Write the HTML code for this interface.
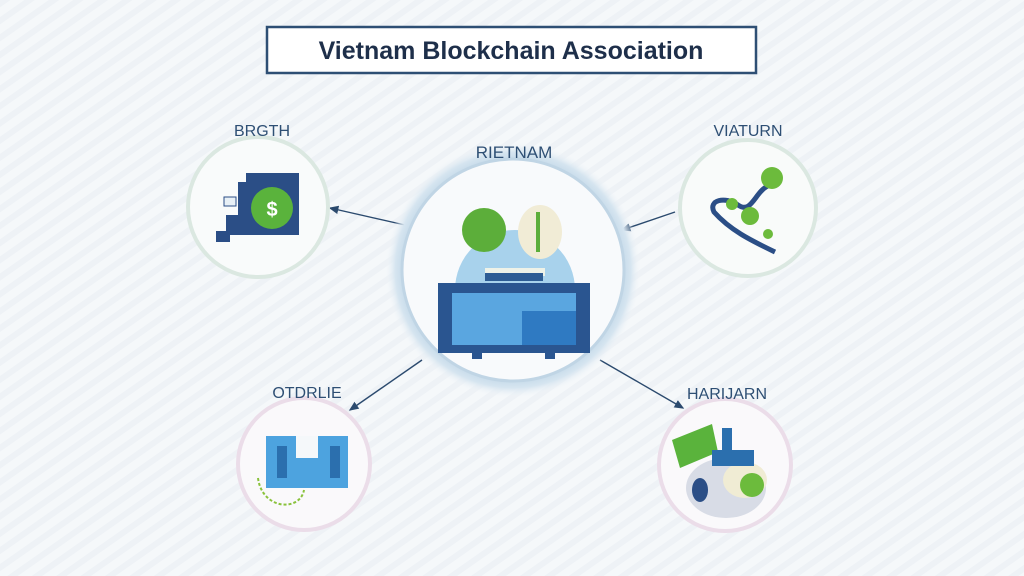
<!DOCTYPE html>
<html><head><meta charset="utf-8"><style>
html,body{margin:0;padding:0;width:1024px;height:576px;overflow:hidden;background:#f3f6f9}
svg{display:block}
text{font-family:"Liberation Sans",sans-serif}
</style></head><body>
<svg width="1024" height="576" viewBox="0 0 1024 576" xmlns="http://www.w3.org/2000/svg">
<defs>
<pattern id="st" width="14" height="14" patternUnits="userSpaceOnUse" patternTransform="rotate(-35)">
<rect width="14" height="14" fill="#f5f8fa"/><rect width="14" height="6" fill="#eef2f6"/></pattern>
<radialGradient id="glow" cx="0.5" cy="0.5" r="0.5">
<stop offset="0.82" stop-color="#bcd4e6"/><stop offset="0.92" stop-color="#d6e5f0"/><stop offset="1" stop-color="#f3f6f9" stop-opacity="0"/></radialGradient>
<marker id="ar" markerWidth="8" markerHeight="8" refX="6" refY="4" orient="auto"><path d="M0,1 L7,4 L0,7z" fill="#2b4a6e"/></marker>
</defs>
<rect width="1024" height="576" fill="url(#st)"/>
<rect x="267" y="27" width="489" height="46" fill="#fff" stroke="#2e4f74" stroke-width="2.5"/>
<text x="511" y="59" font-size="25" font-weight="bold" fill="#1e2f4a" text-anchor="middle">Vietnam Blockchain Association</text>
<g stroke="#2b4a6e" stroke-width="1.4" fill="none" marker-end="url(#ar)">
<line x1="405" y1="225" x2="330" y2="208"/>
<line x1="675" y1="212" x2="622" y2="230"/>
<line x1="422" y1="360" x2="350" y2="410"/>
<line x1="600" y1="360" x2="683" y2="408"/>
</g>
<circle cx="513" cy="270" r="128" fill="url(#glow)"/>
<circle cx="513" cy="270" r="111" fill="#f8fafc" stroke="#c0d5e5" stroke-width="3"/>
<path d="M455,290 A60,60 0 1 1 575,290 Z" fill="#a8d2ec"/>
<circle cx="484" cy="230" r="22" fill="#5cae3a"/>
<ellipse cx="540" cy="232" rx="22" ry="27" fill="#f1ecd6"/>
<rect x="536" y="212" width="4" height="40" fill="#5cae3a"/>
<rect x="485" y="268" width="60" height="8" fill="#eef2e8"/>
<rect x="485" y="273" width="58" height="8" fill="#2d5c94"/>
<rect x="438" y="283" width="152" height="70" fill="#2a5590"/>
<rect x="452" y="293" width="124" height="52" fill="#5aa6e0"/>
<rect x="522" y="311" width="54" height="34" fill="#2f7ac2"/>
<rect x="472" y="349" width="10" height="10" fill="#2a5590"/>
<rect x="545" y="349" width="10" height="10" fill="#2a5590"/>
<text x="514" y="158" font-size="17" fill="#2e4f74" text-anchor="middle">RIETNAM</text>
<circle cx="258" cy="207" r="70" fill="#f9fbfb" stroke="#dbe8e1" stroke-width="4"/>
<path d="M246,173 H299 V235 H230 V242 H216 V231 H226 V215 H238 V182 H246Z" fill="#2b4e86"/>
<circle cx="272" cy="208" r="21" fill="#5ab33c"/>
<text x="272" y="216" font-size="20" font-weight="bold" fill="#fff" text-anchor="middle">$</text>
<rect x="224" y="197" width="12" height="9" fill="#e8f0f6" stroke="#2b4e86"/>
<text x="262" y="136" font-size="16" fill="#2e4f74" text-anchor="middle">BRGTH</text>
<circle cx="748" cy="208" r="68" fill="#f9fbfa" stroke="#dbe8e1" stroke-width="4"/>
<path d="M770,185 C755,190 752,215 738,205 C725,196 708,200 714,212 C730,230 750,240 775,252" stroke="#2b4e86" stroke-width="5" fill="none"/>
<circle cx="772" cy="178" r="11" fill="#6cbb3c"/>
<circle cx="750" cy="216" r="9" fill="#6cbb3c"/>
<circle cx="732" cy="204" r="6" fill="#6cbb3c"/>
<circle cx="768" cy="234" r="5" fill="#6cbb3c"/>
<text x="748" y="136" font-size="16" fill="#2e4f74" text-anchor="middle">VIATURN</text>
<circle cx="304" cy="464" r="66" fill="#faf9fb" stroke="#ebdde9" stroke-width="4"/>
<rect x="266" y="436" width="82" height="52" fill="#4da3df"/>
<rect x="296" y="436" width="22" height="22" fill="#f5f8fa"/>
<rect x="277" y="446" width="10" height="32" fill="#2b6fae"/>
<rect x="330" y="446" width="10" height="32" fill="#2b6fae"/>
<path d="M258,478 C262,510 300,512 304,490" stroke="#8ac23c" stroke-width="2" stroke-dasharray="3 2" fill="none"/>
<text x="307" y="398" font-size="16" fill="#2e4f74" text-anchor="middle">OTDRLIE</text>
<circle cx="725" cy="465" r="66" fill="#faf9fb" stroke="#ebdde9" stroke-width="4"/>
<ellipse cx="726" cy="488" rx="40" ry="30" fill="#d8dce6"/>
<ellipse cx="745" cy="480" rx="22" ry="18" fill="#f0ecd4"/>
<circle cx="752" cy="485" r="12" fill="#6cbb3c"/>
<ellipse cx="700" cy="490" rx="8" ry="12" fill="#2b4e86"/>
<path d="M672,440 L712,424 L718,452 L680,468 Z" fill="#5ab33c"/>
<rect x="712" y="450" width="42" height="16" fill="#2b6fae"/>
<rect x="722" y="428" width="10" height="26" fill="#2b6fae"/>
<text x="727" y="399" font-size="16" fill="#2e4f74" text-anchor="middle">HARIJARN</text>
</svg>
</body></html>
